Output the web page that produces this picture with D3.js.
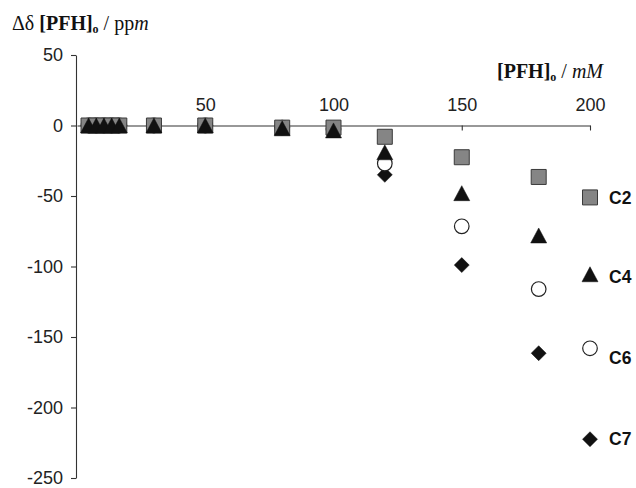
<!DOCTYPE html>
<html>
<head>
<meta charset="utf-8">
<script src="https://cdn.jsdelivr.net/npm/d3@7"></script>
<style>
  body { margin: 0; background: #fff; }
  svg { display: block; }
</style>
</head>
<body>
<div id="chart"></div>
<script>
// concentration of PFH, mM
const xValues = [4.5, 7.5, 10.5, 13.5, 16.5, 30, 50, 80, 100, 120, 150, 180, 200];
// shift values, ppm
const c2 = [0, 0, 0, 0, 0, 0, 0, -1.5, -1.5, -8, -22.5, -36.5, -51];
const c4 = [0, 0, 0, 0, 0, 0, 0, -2, -3.5, -19, -48, -78, -105.5];
const c6 = [0, 0, 0, 0, 0, 0, 0, -1.5, -2.5, -27, -71.5, -116, -158];
const c7 = [0, 0, 0, 0, 0, 0, 0, -1.5, -2.5, -35, -99, -161.5, -222.5];
const seriesNames = ["C2", "C4", "C6", "C7"];
const xTicks = [50, 100, 150, 200];
const yTicks = [50, 0, -50, -100, -150, -200, -250];

const width = 636, height = 488;

const svg = d3.select('#chart')
  .append('svg')
  .attr('width', width)
  .attr('height', height);

const x = d3.scaleLinear().domain([0, 200]).range([77, 590]);
const y = d3.scaleLinear().domain([-250, 50]).range([478, 55]);

// y axis
const yAxis = svg.append('g')
  .attr('transform', `translate(${x(0) - 1},0)`)
  .call(d3.axisLeft(y).tickValues(yTicks).tickSize(5).tickSizeOuter(0).tickPadding(8).tickFormat(d3.format('d')));

// x axis, at y = 0, labels above, ticks below
const xAxis = svg.append('g')
  .attr('transform', `translate(0,${y(0)})`)
  .call(d3.axisTop(x).tickValues(xTicks).tickSize(-5).tickSizeOuter(0).tickPadding(15));

[yAxis, xAxis].forEach(g => {
  g.selectAll('path, line').attr('stroke', '#333').attr('stroke-width', 1.1);
  g.selectAll('text')
    .attr('fill', '#222')
    .style('font-family', 'Liberation Sans, Arial, sans-serif')
    .style('font-size', '18px');
});
yAxis.selectAll('text').text(d => d < 0 ? '-' + Math.abs(d) : d);

// marker shapes, bbox centred
function shapePath(kind) {
  const p = d3.path();
  if (kind === 'square') {
    p.rect(-7.5, -7.5, 15, 15);
  } else if (kind === 'triangle') {
    p.moveTo(0, -7.5); p.lineTo(8, 7.5); p.lineTo(-8, 7.5); p.closePath();
  } else if (kind === 'circle') {
    p.arc(0, 0, 7.3, 0, 2 * Math.PI);
  } else {
    p.moveTo(0, -7.5); p.lineTo(7.5, 0); p.lineTo(0, 7.5); p.lineTo(-7.5, 0); p.closePath();
  }
  return p.toString();
}

const series = [
  { name: seriesNames[0], values: c2, kind: 'square', fill: '#858585', stroke: '#3a3a3a', sw: 1, labelDy: 0 },
  { name: seriesNames[1], values: c4, kind: 'triangle', fill: '#111', stroke: '#111', sw: 0.5, labelDy: 3 },
  { name: seriesNames[2], values: c6, kind: 'circle', fill: '#fff', stroke: '#222', sw: 1.2, labelDy: 10 },
  { name: seriesNames[3], values: c7, kind: 'diamond', fill: '#111', stroke: '#111', sw: 0.5, labelDy: 0 }
];

// drawing order: diamonds, circles, squares, triangles on top
const drawOrder = [3, 2, 0, 1];
drawOrder.forEach(i => {
  const s = series[i];
  svg.append('g')
    .selectAll('path')
    .data(xValues.map((xv, j) => ({ x: xv, y: s.values[j] })))
    .enter()
    .append('path')
    .attr('d', shapePath(s.kind))
    .attr('transform', d => `translate(${x(d.x)},${y(d.y)})`)
    .attr('fill', s.fill)
    .attr('stroke', s.stroke)
    .attr('stroke-width', s.sw);
});

// series labels next to last points
series.forEach(s => {
  const last = s.values.length - 1;
  svg.append('text')
    .attr('x', x(xValues[last]) + 19)
    .attr('y', y(s.values[last]) + s.labelDy)
    .attr('dy', '0.35em')
    .attr('fill', '#111')
    .style('font-family', 'Liberation Sans, Arial, sans-serif')
    .style('font-size', '17.5px')
    .style('font-weight', 'bold')
    .text(s.name);
});

// axis titles
const serif = 'Liberation Serif, Times New Roman, serif';
const yTitle = svg.append('text')
  .attr('x', 12).attr('y', 30)
  .attr('fill', '#111')
  .style('font-family', serif)
  .style('font-size', '20px');
yTitle.append('tspan').text('Δδ ');
yTitle.append('tspan').style('font-weight', 'bold').text('[PFH]');
yTitle.append('tspan').style('font-weight', 'bold').style('font-size', '12px').attr('dy', 3).text('o');
yTitle.append('tspan').attr('dy', -3).text(' / pp');
yTitle.append('tspan').style('font-style', 'italic').text('m');

const xTitle = svg.append('text')
  .attr('x', 603).attr('y', 78)
  .attr('text-anchor', 'end')
  .attr('fill', '#111')
  .style('font-family', serif)
  .style('font-size', '20px');
xTitle.append('tspan').style('font-weight', 'bold').text('[PFH]');
xTitle.append('tspan').style('font-weight', 'bold').style('font-size', '12px').attr('dy', 3).text('o');
xTitle.append('tspan').attr('dy', -3).text(' / ');
xTitle.append('tspan').style('font-style', 'italic').text('mM');
</script>
</body>
</html>
